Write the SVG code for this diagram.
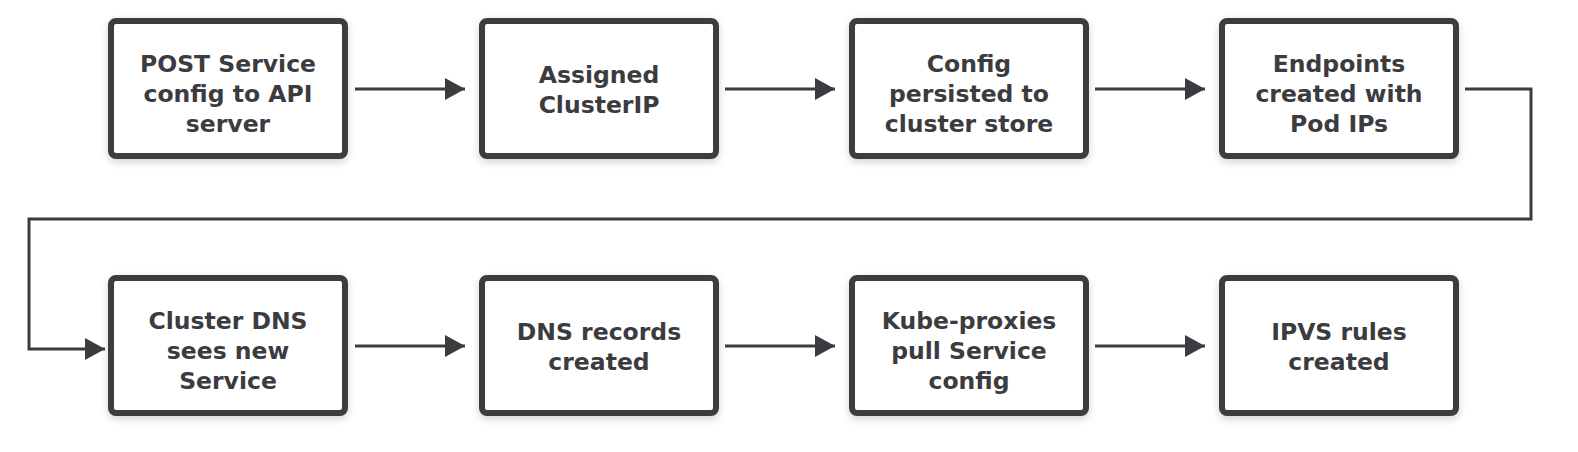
<svg xmlns="http://www.w3.org/2000/svg" width="1578" height="452" viewBox="0 0 1578 452">
<style>
.box{fill:#ffffff;stroke:#3b3c3f;stroke-width:6;filter:url(#sh)}
.t{font-family:"DejaVu Sans","Open Sans",sans-serif;font-weight:700;font-size:23.5px;fill:#3b3c3f;text-anchor:middle}
.c{fill:none;stroke:#3b3c3f;stroke-width:3}
</style>
<defs>
<filter id="sh" x="-10%" y="-15%" width="120%" height="135%">
<feGaussianBlur in="SourceAlpha" stdDeviation="4"/>
<feOffset dy="3"/>
<feComponentTransfer><feFuncA type="linear" slope="0.18"/></feComponentTransfer>
<feMerge><feMergeNode/><feMergeNode in="SourceGraphic"/></feMerge>
</filter>
<marker id="a" viewBox="0 0 20 22" refX="20" refY="11" markerWidth="20" markerHeight="22" markerUnits="userSpaceOnUse" orient="auto">
<path d="M0,0 L20,11 L0,22 z" fill="#3b3c3f"/>
</marker>
</defs>
<rect width="1578" height="452" fill="#ffffff"/>
<g id="connectors">
<line class="c" x1="355" y1="89" x2="465" y2="89" marker-end="url(#a)"/>
<line class="c" x1="725" y1="89" x2="835" y2="89" marker-end="url(#a)"/>
<line class="c" x1="1095" y1="89" x2="1205" y2="89" marker-end="url(#a)"/>
<polyline class="c" points="1465,89 1531,89 1531,219 29,219 29,349 105,349" marker-end="url(#a)"/>
<line class="c" x1="355" y1="346" x2="465" y2="346" marker-end="url(#a)"/>
<line class="c" x1="725" y1="346" x2="835" y2="346" marker-end="url(#a)"/>
<line class="c" x1="1095" y1="346" x2="1205" y2="346" marker-end="url(#a)"/>
</g>
<g id="n1"><rect class="box" x="111" y="21" width="234" height="135" rx="5"/>
<text class="t"><tspan x="228" y="72">POST Service</tspan><tspan x="228" y="102">config to API</tspan><tspan x="228" y="132">server</tspan></text></g>
<g id="n2"><rect class="box" x="482" y="21" width="234" height="135" rx="5"/>
<text class="t"><tspan x="599" y="83">Assigned</tspan><tspan x="599" y="113">ClusterIP</tspan></text></g>
<g id="n3"><rect class="box" x="852" y="21" width="234" height="135" rx="5"/>
<text class="t"><tspan x="969" y="72">Config</tspan><tspan x="969" y="102">persisted to</tspan><tspan x="969" y="132">cluster store</tspan></text></g>
<g id="n4"><rect class="box" x="1222" y="21" width="234" height="135" rx="5"/>
<text class="t"><tspan x="1339" y="72">Endpoints</tspan><tspan x="1339" y="102">created with</tspan><tspan x="1339" y="132">Pod IPs</tspan></text></g>
<g id="n5"><rect class="box" x="111" y="278" width="234" height="135" rx="5"/>
<text class="t"><tspan x="228" y="329">Cluster DNS</tspan><tspan x="228" y="359">sees new</tspan><tspan x="228" y="389">Service</tspan></text></g>
<g id="n6"><rect class="box" x="482" y="278" width="234" height="135" rx="5"/>
<text class="t"><tspan x="599" y="340">DNS records</tspan><tspan x="599" y="370">created</tspan></text></g>
<g id="n7"><rect class="box" x="852" y="278" width="234" height="135" rx="5"/>
<text class="t"><tspan x="969" y="329">Kube-proxies</tspan><tspan x="969" y="359">pull Service</tspan><tspan x="969" y="389">config</tspan></text></g>
<g id="n8"><rect class="box" x="1222" y="278" width="234" height="135" rx="5"/>
<text class="t"><tspan x="1339" y="340">IPVS rules</tspan><tspan x="1339" y="370">created</tspan></text></g>
</svg>
